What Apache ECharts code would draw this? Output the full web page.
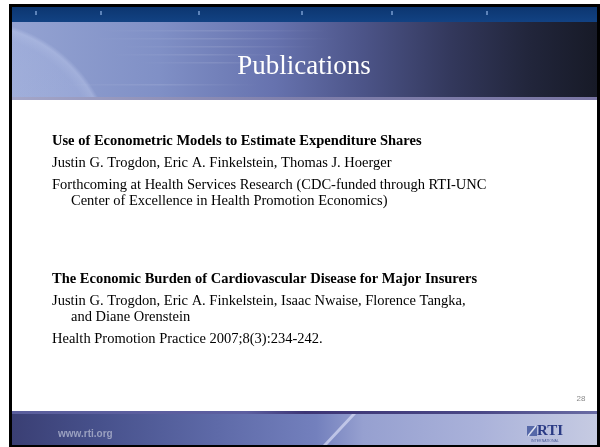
<!DOCTYPE html>
<html>
<head>
	<meta charset="utf-8">
	<title>Publications</title>
	<script src="https://cdn.jsdelivr.net/npm/echarts@6/dist/echarts.min.js"></script>
	<style>html,body{margin:0;padding:0;background:#fff;}</style>
</head>
<body>
	<div id="main" style="width: 600px;height: 447px;"></div>
</body>
<script type="text/javascript">
	// slide texts
	var slideTitle = 'Publications';
	var pubTitles = [
		'Use of Econometric Models to Estimate Expenditure Shares',
		'The Economic Burden of Cardiovascular Disease for Major Insurers'
	];
	var pubAuthors = [
		['Justin G. Trogdon, Eric A. Finkelstein, Thomas J. Hoerger'],
		['Justin G. Trogdon, Eric A. Finkelstein, Isaac Nwaise, Florence Tangka,', 'and Diane Orenstein']
	];
	var pubSources = [
		['Forthcoming at Health Services Research (CDC-funded through RTI-UNC', 'Center of Excellence in Health Promotion Economics)'],
		['Health Promotion Practice 2007;8(3):234-242.']
	];
	var pageNumber = '28';
	var footerUrl = 'www.rti.org';
	var logoText = 'RTI';
	var logoSub = 'INTERNATIONAL';

	var myChart = echarts.init(document.getElementById('main'));
	var serif = '"Liberation Serif", "Times New Roman", serif';
	var sans = '"Liberation Sans", Arial, sans-serif';
	var LG = echarts.graphic.LinearGradient;

	var L = 12, R = 597;          // slide inner left / right
	var textX = 52, hang = 19;
	var paraGap = 22, wrapGap = 16;
	var blockTops = [141, 279];

	var els = [];

	// frame
	els.push({type: 'rect', shape: {x: 10.5, y: 5.5, width: 588, height: 440},
		style: {fill: '#fff', stroke: '#000', lineWidth: 3}});

	// top navy band with tick dots
	els.push({type: 'rect', shape: {x: L, y: 7, width: R - L, height: 15},
		style: {fill: new LG(0, 0, 0, 1, [{offset: 0, color: '#0c3670'}, {offset: 1, color: '#124283'}])}});
	[36, 101, 199, 302, 392, 487].forEach(function (x) {
		els.push({type: 'rect', shape: {x: x - 1, y: 11, width: 2, height: 4},
			style: {fill: '#7fa2d6', opacity: 0.7}});
	});

	// header picture
	els.push({type: 'rect', shape: {x: L, y: 22, width: R - L, height: 75},
		style: {fill: new LG(0, 0, 1, 0, [
			{offset: 0, color: '#94a3d2'},
			{offset: 0.25, color: '#8090c6'},
			{offset: 0.45, color: '#6672ae'},
			{offset: 0.6, color: '#4c5488'},
			{offset: 0.75, color: '#33385c'},
			{offset: 0.88, color: '#22263c'},
			{offset: 1, color: '#171a27'}
		])}});
	// planet
	els.push({type: 'rect', shape: {x: L, y: 22, width: R - L, height: 75},
		style: {fill: new echarts.graphic.RadialGradient(-30, 165, 145, [
			{offset: 0, color: 'rgba(200,212,242,0.3)'},
			{offset: 0.9, color: 'rgba(190,202,240,0.25)'},
			{offset: 0.97, color: 'rgba(215,225,252,0.3)'},
			{offset: 1, color: 'rgba(215,225,255,0)'}
		], true)}});
	// light streaks
	[[100, 30, 230], [90, 38, 250], [120, 46, 200], [110, 54, 180], [140, 62, 150], [60, 84, 200]].forEach(function (s) {
		els.push({type: 'rect', shape: {x: s[0], y: s[1], width: s[2], height: 1.5},
			style: {fill: new LG(0, 0, 1, 0, [
				{offset: 0, color: 'rgba(255,255,255,0)'},
				{offset: 0.5, color: 'rgba(255,255,255,0.1)'},
				{offset: 1, color: 'rgba(255,255,255,0)'}])}});
	});
	// header bottom line
	els.push({type: 'rect', shape: {x: L, y: 97, width: R - L, height: 3},
		style: {fill: new LG(0, 0, 1, 0, [{offset: 0, color: '#a4a6c8'}, {offset: 0.5, color: '#7e7eaa'}, {offset: 1, color: '#7a76a4'}])}});

	els.push({type: 'text', x: 304, y: 67, style: {
		text: slideTitle, fill: '#fff', font: '27px ' + serif, align: 'center', verticalAlign: 'middle'}});

	// body text
	for (var b = 0; b < pubTitles.length; b++) {
		var y = blockTops[b];
		els.push({type: 'text', x: textX, y: y, style: {
			text: pubTitles[b], fill: '#000', font: 'bold 14.5px ' + serif, verticalAlign: 'middle'}});
		[pubAuthors[b], pubSources[b]].forEach(function (para) {
			y += paraGap;
			para.forEach(function (line, i) {
				if (i > 0) y += wrapGap;
				els.push({type: 'text', x: textX + (i > 0 ? hang : 0), y: y, style: {
					text: line, fill: '#000', font: '14.5px ' + serif, verticalAlign: 'middle'}});
			});
		});
	}

	els.push({type: 'text', x: 581, y: 399, style: {
		text: pageNumber, fill: '#8a8a8a', font: '8px ' + sans, align: 'center', verticalAlign: 'middle'}});

	// footer
	els.push({type: 'rect', shape: {x: L, y: 411, width: R - L, height: 34},
		style: {fill: new LG(0, 0, 1, 0, [
			{offset: 0, color: '#3a3f74'},
			{offset: 0.15, color: '#47518c'},
			{offset: 0.35, color: '#5e6aa8'},
			{offset: 0.52, color: '#7380bd'},
			{offset: 0.6, color: '#96a0d0'},
			{offset: 0.8, color: '#aab2da'},
			{offset: 1, color: '#c6cbe2'}
		])}});
	els.push({type: 'rect', shape: {x: L, y: 411, width: R - L, height: 3},
		style: {fill: new LG(0, 0, 1, 0, [
			{offset: 0, color: '#5a5e9c'},
			{offset: 0.4, color: '#5c5ea0'},
			{offset: 0.5, color: '#3c3474'},
			{offset: 0.8, color: '#4a4886'},
			{offset: 1, color: '#6a6ca4'}])}});
	els.push({type: 'polygon', shape: {points: [[352, 414], [356, 414], [327, 445], [323, 445]]},
		style: {fill: 'rgba(215,220,245,0.7)'}});
	els.push({type: 'text', x: 58, y: 434, style: {
		text: footerUrl, fill: '#9aa0c0', font: 'bold 10px ' + sans, verticalAlign: 'middle'}});

	// RTI logo
	els.push({type: 'polygon', shape: {points: [[527, 426], [537, 426], [537, 436], [527, 436]]},
		style: {fill: '#5668a8'}});
	els.push({type: 'line', shape: {x1: 528, y1: 436, x2: 536, y2: 426},
		style: {stroke: '#dfe3f2', lineWidth: 1.5}});
	els.push({type: 'text', x: 537, y: 431, style: {
		text: logoText, fill: '#2a3a84', font: 'bold 15px ' + serif, verticalAlign: 'middle'}});
	els.push({type: 'text', x: 545, y: 441, style: {
		text: logoSub, fill: '#4a5a98', font: '3.5px ' + sans, align: 'center', verticalAlign: 'middle'}});

	myChart.setOption({
		animation: false,
		graphic: {elements: els}
	});
</script>
</html>
